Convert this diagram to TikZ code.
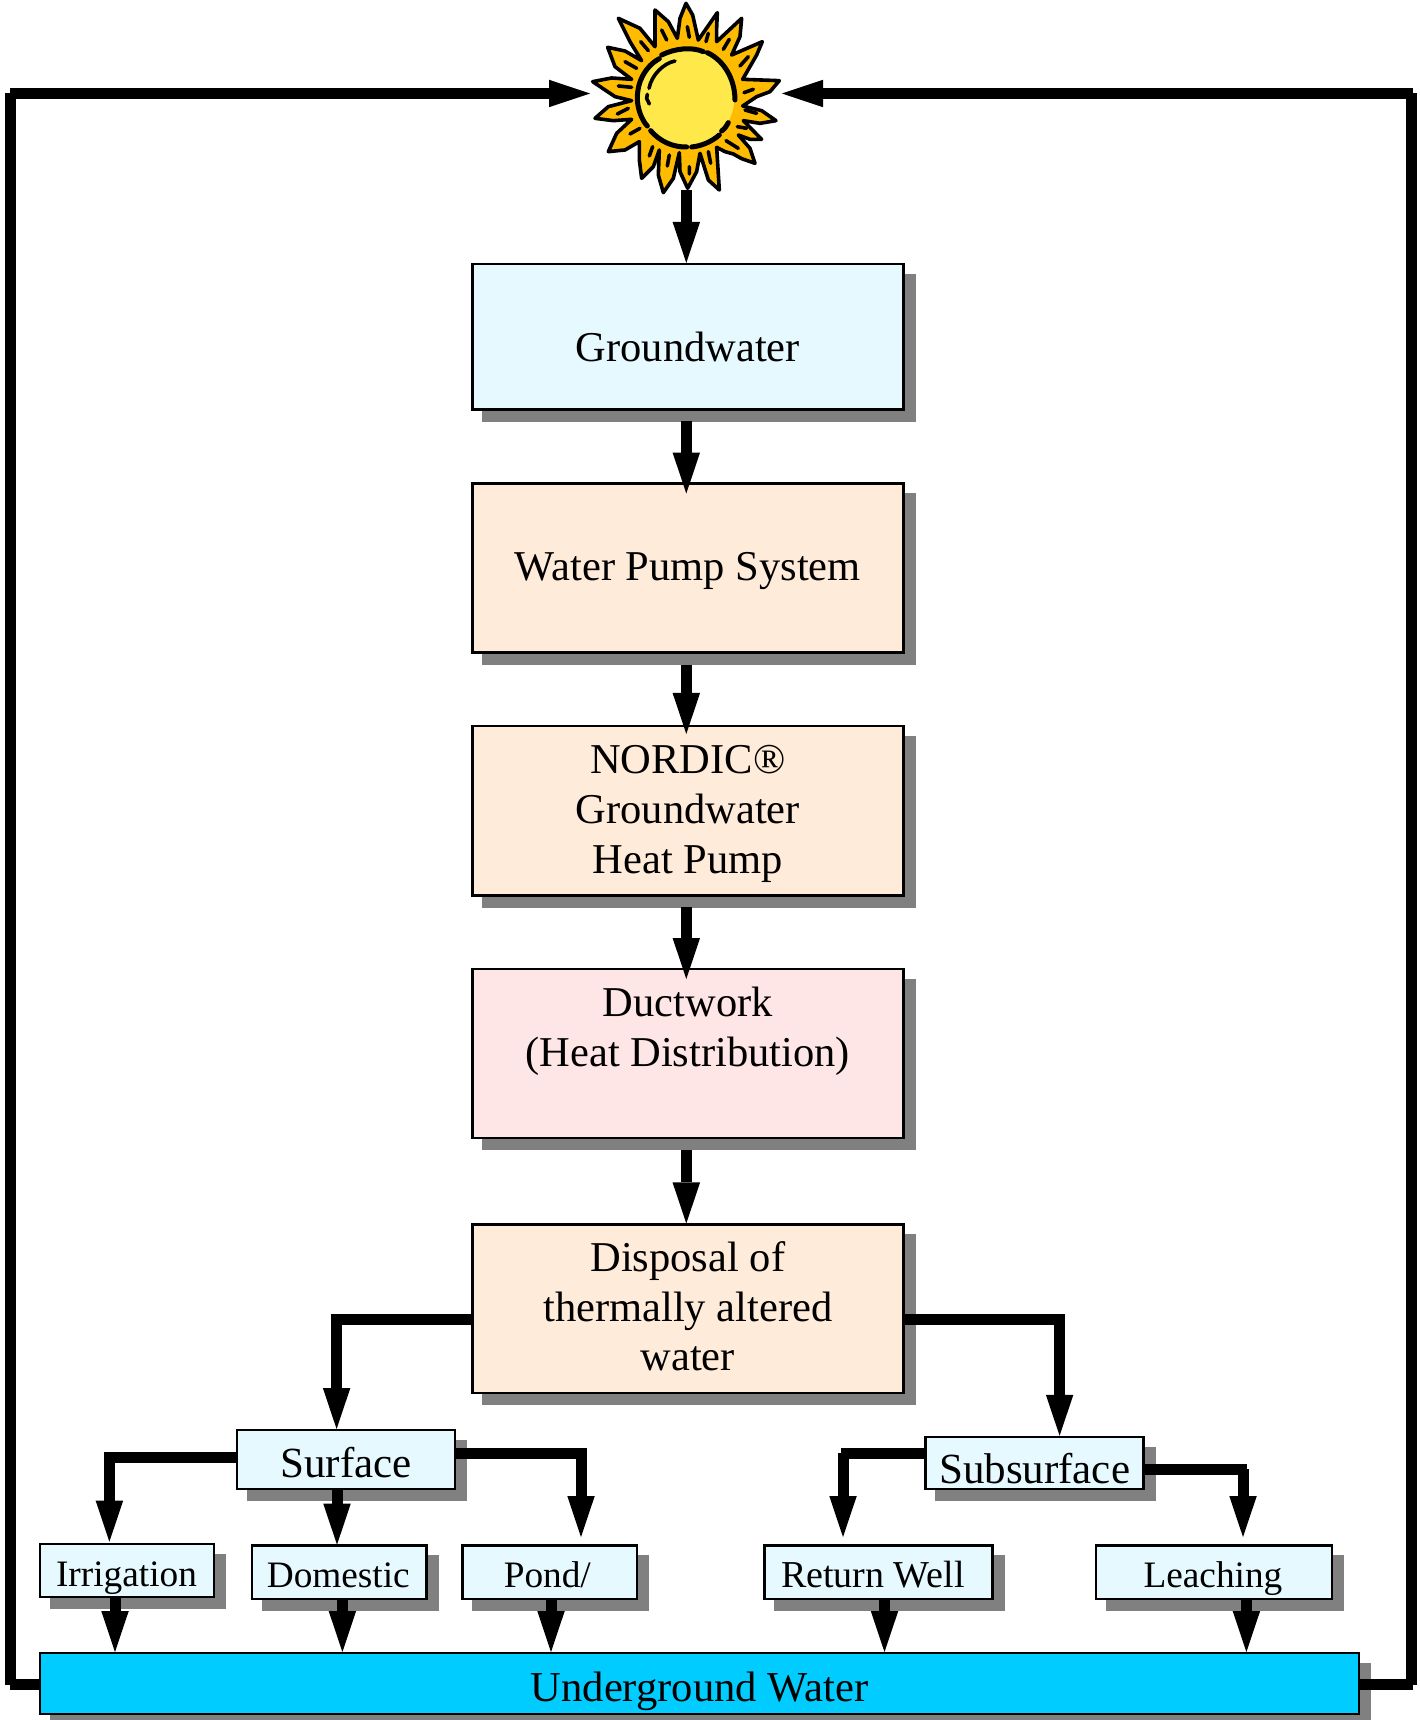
\documentclass[tikz,border=0pt]{standalone}
\usepackage{fontspec}
\setmainfont{Liberation Serif}
\usetikzlibrary{arrows.meta,shadows}
\definecolor{cyanbox}{HTML}{E6F9FF}
\definecolor{peachbox}{HTML}{FFEBD9}
\definecolor{pinkbox}{HTML}{FFE6E6}
\definecolor{bluebox}{HTML}{00CCFF}
\definecolor{shadowgrey}{HTML}{808080}
\definecolor{sunorange}{HTML}{FFBB00}
\definecolor{sunyellow}{HTML}{FFE84A}
\newcommand\lbl[3][0]{\makebox[0pt]{\hspace{#1pt}\raisebox{#2pt}[0pt][0pt]{\begin{tabular}[t]{@{}c@{}}#3\end{tabular}}}}
\tikzset{
  boxbase/.style={draw=black,line width=2.4pt,inner sep=0pt,outer sep=0pt,text=black,
    drop shadow={shadow xshift=11pt,shadow yshift=-11pt,fill=shadowgrey,draw=shadowgrey,opacity=1}},
  mainbox/.style={boxbase,minimum width=431pt,font=\fontsize{42.5}{49.8}\selectfont},
  bigsmall/.style={boxbase,font=\fontsize{43}{50}\selectfont},
  smallbox/.style={boxbase,fill=cyanbox,minimum height=53.3pt,font=\fontsize{37.3}{45}\selectfont},
  conn/.style={draw=black,line width=11pt,line join=miter,-{Triangle[length=41pt,width=27.5pt,line width=0pt]}},
  sunline/.style={draw=black,line width=5pt,line cap=round,line join=round},
  raymark/.style={draw=black,line width=3.6pt,line cap=round}
}
\begin{document}
\begin{tikzpicture}[x=1pt,y=-1pt]
\useasboundingbox (0,0) rectangle (1419,1720);
\fill[white] (0,0) rectangle (1419,1720);
% sun
\begin{scope}[shift={(560,0)},x=0.3333pt,y=-0.3333pt]
\filldraw[fill=sunorange,draw=black,line width=3.6pt,line join=round]
 (378,10)--(398,45)--(415,120)--(472,38)--(470,85)--(470,125)--(545,55)--(540,110)--(515,165)--(607,125)--(590,165)--(548,238)
 --(658,242)--(630,275)--(590,290)--(548,318)--(605,332)--(648,362)--(600,370)--(550,362)--(605,418)--(570,418)--(535,405)
 --(570,445)--(585,490)--(545,476)--(520,462)--(495,455)--(470,442)--(478,570)--(445,540)--(420,460)--(410,515)--(383,565)--(360,515)--(358,458)
 --(340,535)--(310,578)--(295,525)--(298,450)--(280,500)--(245,535)--(238,480)--(238,425)--(195,450)--(145,455)--(170,400)--(215,358)
 --(160,362)--(105,355)--(145,320)--(215,302)--(165,290)--(98,245)--(155,234)--(215,238)--(165,200)--(143,142)--(195,153)--(245,182)
 --(210,125)--(175,55)--(240,85)--(285,140)--(285,30)--(325,65)--(352,115)--(360,55)--cycle;
\fill[sunyellow] (380,295) circle[radius=143];
\draw[sunline] (305,165) .. controls (345,145) and (395,140) .. (430,155);
\draw[sunline] (442,158) .. controls (490,180) and (525,235) .. (525,300);
\draw[sunline] (485,393) .. controls (495,385) and (500,378) .. (505,368);
\draw[sunline] (395,441) .. controls (425,438) and (455,425) .. (478,405);
\draw[sunline] (272,392) .. controls (300,425) and (340,442) .. (380,441);
\draw[sunline] (298,176) .. controls (255,200) and (232,245) .. (232,295) .. controls (232,325) and (245,360) .. (262,378);
\draw[draw=black,line width=3.6pt,line cap=round] (345,183) .. controls (310,190) and (275,225) .. (267,265);
\draw[draw=black,line width=3.6pt,line cap=round] (262,283) -- (260,295) -- (268,312);
\draw[raymark] (382,80)--(388,112) (445,100)--(438,125) (508,118)--(490,148) (565,170)--(540,198) (580,268)--(552,278)
 (590,340)--(555,330) (560,385)--(532,380) (535,445)--(498,422) (445,455)--(452,490) (388,500)--(388,522) (328,465)--(322,498)
 (278,440)--(268,468) (240,385)--(210,402) (205,325)--(172,342) (215,262)--(175,258) (230,205)--(195,185) (265,152)--(242,125) (320,120)--(305,90);
\end{scope}
\node[inner sep=0pt,outer sep=0pt,minimum width=192pt,minimum height=184pt] (sun) at (686,98) {};
% boxes
\node[mainbox,fill=cyanbox,minimum height=145.5pt] (gw) at (687.8,336.7) {\lbl{-24.3}{Groundwater}};
\node[mainbox,fill=peachbox,minimum height=169pt] (pump) at (687.8,568) {\lbl{-12.5}{Water Pump System}};
\node[mainbox,fill=peachbox,minimum height=169.5pt] (nordic) at (687.8,810.7) {\lbl{37.3}{NORDIC®\\Groundwater\\Heat Pump}};
\node[mainbox,fill=pinkbox,minimum height=169pt] (duct) at (687.8,1053.5) {\lbl{37}{Ductwork\\(Heat Distribution)}};
\node[mainbox,fill=peachbox,minimum height=168.5pt] (disp) at (687.8,1308.7) {\lbl{37.4}{Disposal of\\thermally altered\\water}};
\node[bigsmall,fill=cyanbox,minimum width=218pt,minimum height=59pt] (surf) at (346,1459.5) {\lbl{-18}{Surface}};
\node[bigsmall,fill=cyanbox,minimum width=217.9pt,minimum height=52.3pt] (subs) at (1034.6,1462.9) {\lbl{-20.1}{Subsurface}};
\node[smallbox,minimum width=174pt] (irr) at (127,1570.5) {\lbl[-1]{-15.5}{Irrigation}};
\node[smallbox,minimum width=174.5pt] (dom) at (339.3,1572.3) {\lbl[-2]{-15.4}{Domestic}};
\node[smallbox,minimum width=174.5pt] (pond) at (549.8,1572.3) {\lbl[-5]{-15.4}{Pond/}};
\node[smallbox,minimum width=228.2pt,font=\fontsize{38}{45}\selectfont] (ret) at (878.4,1572.3) {\lbl[-11]{-15.4}{Return Well}};
\node[smallbox,minimum width=235.7pt] (leach) at (1213.9,1572.3) {\lbl[-2]{-15.4}{Leaching}};
\node[bigsmall,fill=bluebox,minimum width=1319pt,minimum height=61pt,font=\fontsize{42.6}{50}\selectfont] (under) at (699.5,1683.5) {\lbl{-17.5}{Underground Water}};
% connectors: main column
\coordinate (axis) at (686.3,0);
\draw[conn] (sun.south -| axis) -- ([yshift=1pt]gw.north -| axis);
\draw[conn] ([yshift=-12pt]gw.south -| axis) -- ([yshift=-10pt]pump.north -| axis);
\draw[conn] ([yshift=-12pt]pump.south -| axis) -- ([yshift=-8pt]nordic.north -| axis);
\draw[conn] ([yshift=-12pt]nordic.south -| axis) -- ([yshift=-10pt]duct.north -| axis);
\draw[conn] ([yshift=-12pt]duct.south -| axis) -- ([yshift=1pt]disp.north -| axis);
% loops to the sun
\coordinate (topy) at (0,93.5);
\coordinate (boty) at (0,1684.5);
\draw[conn] (under.west |- boty) -- (10,1684.5) (10.5,1685) -- (10.5,92.7) (10,93.5) -- (sun.west |- topy);
\draw[conn] (under.east |- boty) -- (1413,1684.5) (1411.5,1685) -- (1411.5,92.7) (1413,93.5) -- (sun.east |- topy);
% disposal
\coordinate (dl) at (336.6,1319);
\coordinate (dr) at (1059.6,1319);
\draw[conn] (disp.west |- dl) -- (dl) -- ([yshift=1pt]surf.north -| dl);
\draw[conn] (disp.east |- dr) -- (dr) -- ([yshift=1pt]subs.north -| dr);
% surface
\coordinate (sl) at (109.4,1457);
\coordinate (sr) at (581,1453);
\coordinate (sd) at (337,0);
\draw[conn] (surf.west |- sl) -- (sl) -- (sl |- 0,1541.7);
\draw[conn] (surf.east |- sr) -- (sr) -- (sr |- 0,1537);
\draw[conn] (surf.south -| sd) -- ([yshift=1pt]dom.north -| sd);
% subsurface
\draw[conn] (subs.west |- 0,1453) -- (841,1453) (843,1453) -- (843,1537);
\draw[conn] (subs.east |- 0,1469) -- (1247,1469) (1243,1469) -- (1243,1537);
% down to underground water
\draw[conn] (irr.south -| 115,0) -- ([yshift=1pt]under.north -| 115,0);
\draw[conn] (dom.south -| 342.4,0) -- ([yshift=1pt]under.north -| 342.4,0);
\draw[conn] (pond.south -| 551,0) -- ([yshift=1pt]under.north -| 551,0);
\draw[conn] (ret.south -| 884.5,0) -- ([yshift=1pt]under.north -| 884.5,0);
\draw[conn] (leach.south -| 1246.4,0) -- ([yshift=1pt]under.north -| 1246.4,0);
\end{tikzpicture}
\end{document}
